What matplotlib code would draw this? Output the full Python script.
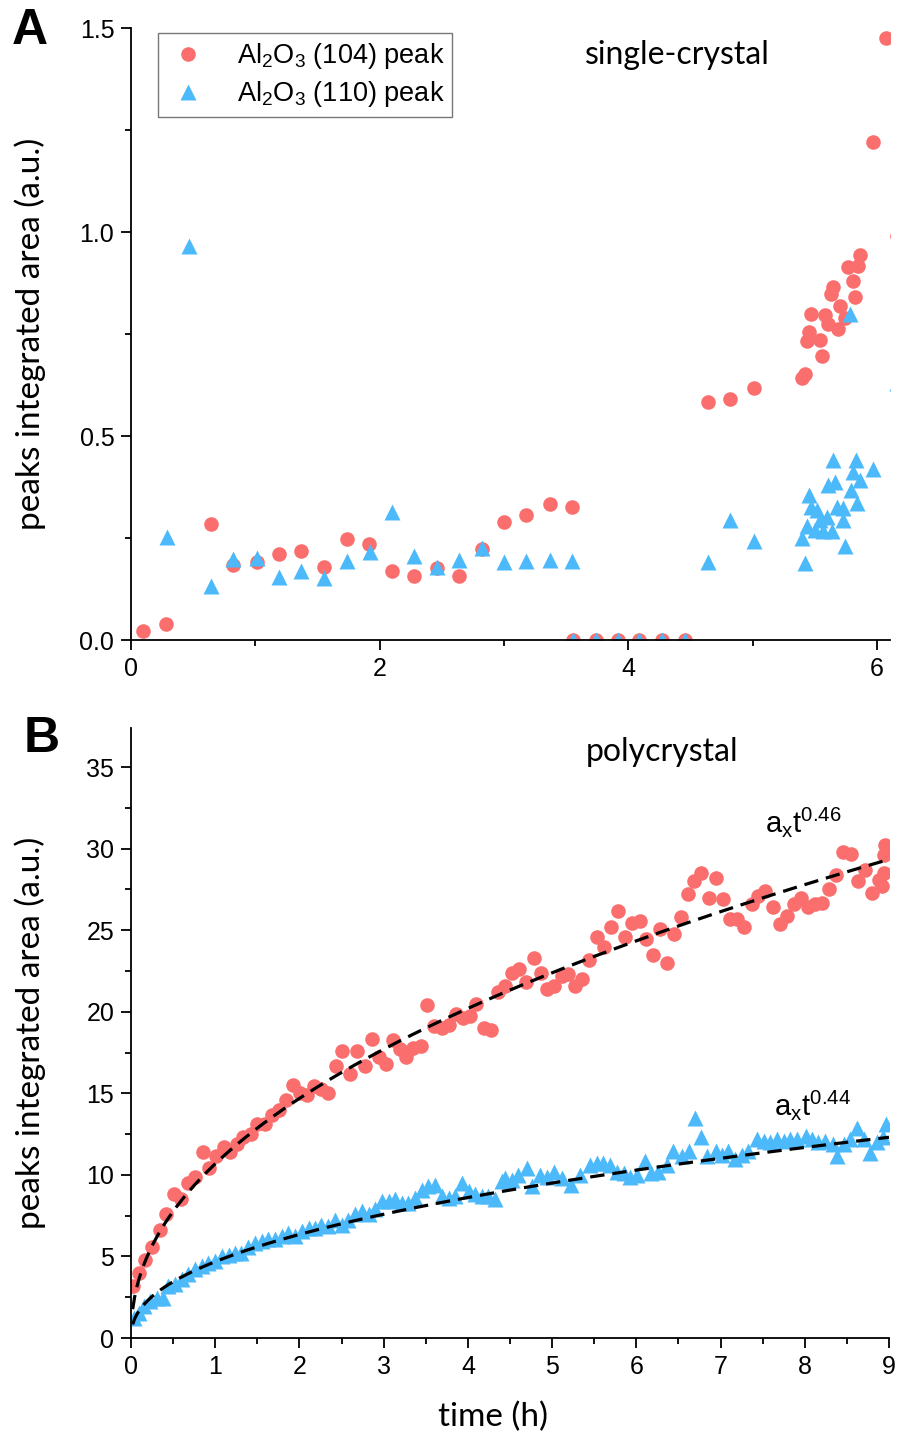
import matplotlib
matplotlib.use("Agg")
import matplotlib.pyplot as plt
import numpy as np
from matplotlib.ticker import MultipleLocator

# ---------------- Panel A data (single crystal) ----------------
a_t104 = [0.10, 0.28, 0.64, 0.82, 1.01, 1.19, 1.37, 1.55, 1.735, 1.915, 2.10, 2.28, 2.46, 2.64, 2.82,
          3.00, 3.18, 3.37, 3.545, 3.555, 3.74, 3.92, 4.09, 4.27, 4.46,
          4.64, 4.82, 5.01, 5.40, 5.42, 5.56, 5.44, 5.54, 5.45, 5.47, 5.58, 5.61, 5.69, 5.74, 5.70,
          5.63, 5.65, 5.82, 5.81, 5.77, 5.85, 5.86, 5.97, 6.07, 6.16]
a_y104 = [0.022, 0.040, 0.285, 0.184, 0.190, 0.210, 0.219, 0.180, 0.247, 0.235, 0.169, 0.158, 0.176, 0.158, 0.223,
          0.288, 0.306, 0.333, 0.325, 0.0, 0.0, 0.0, 0.0, 0.0, 0.0,
          0.583, 0.590, 0.618, 0.641, 0.651, 0.696, 0.734, 0.735, 0.756, 0.798, 0.797, 0.775, 0.762, 0.788, 0.819,
          0.848, 0.866, 0.841, 0.881, 0.915, 0.917, 0.944, 1.22, 1.475, 0.99]

a_t110 = [0.287, 0.469, 0.64, 0.82, 1.01, 1.19, 1.37, 1.55, 1.735, 1.92, 2.10, 2.28, 2.46, 2.64, 2.82,
          3.00, 3.18, 3.37, 3.545, 3.555, 3.74, 3.92, 4.09, 4.27, 4.46,
          4.64, 4.82, 5.01, 5.42, 5.40, 5.44, 5.45, 5.47, 5.52, 5.54, 5.50, 5.57, 5.64, 5.60, 5.61,
          5.66, 5.645, 5.68, 5.725, 5.74, 5.725, 5.79, 5.84, 5.81, 5.865, 5.83, 5.97, 5.78, 6.16]
a_y110 = [0.252, 0.965, 0.132, 0.198, 0.200, 0.155, 0.169, 0.151, 0.194, 0.216, 0.314, 0.206, 0.178, 0.196, 0.225,
          0.190, 0.194, 0.196, 0.194, 0.0, 0.0, 0.0, 0.0, 0.0, 0.0,
          0.192, 0.294, 0.243, 0.188, 0.249, 0.279, 0.355, 0.325, 0.319, 0.294, 0.270, 0.266, 0.266, 0.302, 0.380,
          0.388, 0.441, 0.325, 0.294, 0.230, 0.323, 0.368, 0.335, 0.412, 0.392, 0.441, 0.420, 0.800, 0.63]

# ---------------- Panel B data (polycrystal) ----------------
b_t104 = [0.02, 0.09, 0.17, 0.25, 0.34, 0.42, 0.51, 0.59, 0.68, 0.76, 0.85, 0.93, 1.01, 1.10, 1.18,
          1.26, 1.33, 1.43, 1.50, 1.59, 1.67, 1.76, 1.84, 1.92, 2.01, 2.09, 2.17, 2.26, 2.34, 2.43,
          2.51, 2.60, 2.68, 2.78, 2.86, 2.94, 3.03, 3.11, 3.19, 3.27, 3.35, 3.44, 3.52, 3.60, 3.69,
          3.77, 3.86, 3.94, 4.03, 4.10, 4.19, 4.28, 4.36, 4.44, 4.52, 4.61, 4.69, 4.78, 4.87, 4.94,
          5.02, 5.12, 5.19, 5.27, 5.36, 5.44, 5.53, 5.62, 5.70, 5.78, 5.87, 5.95, 6.04, 6.12, 6.20,
          6.28, 6.37, 6.45, 6.53, 6.61, 6.69, 6.77, 6.86, 6.95, 7.03, 7.11, 7.20, 7.28, 7.37, 7.45,
          7.53, 7.62, 7.71, 7.79, 7.87, 7.95, 8.04, 8.12, 8.20, 8.29, 8.37, 8.45, 8.55, 8.63, 8.72,
          8.80, 8.88, 8.92, 8.94, 8.95, 8.94]
b_y104 = [3.2, 4.0, 4.8, 5.6, 6.65, 7.6, 8.8, 8.5, 9.5, 9.9, 11.4, 10.4, 11.15, 11.7, 11.4,
          11.9, 12.3, 12.5, 13.1, 13.1, 13.7, 14.0, 14.6, 15.5, 15.0, 14.9, 15.45, 15.25, 15.0, 16.7,
          17.6, 16.2, 17.6, 16.7, 18.35, 17.2, 16.8, 18.3, 17.7, 17.2, 17.75, 17.9, 20.4, 19.1, 19.0,
          19.2, 19.85, 19.6, 19.75, 20.5, 19.0, 18.9, 21.2, 21.6, 22.4, 22.65, 21.8, 23.3, 22.4, 21.4,
          21.6, 22.2, 22.3, 21.6, 22.0, 23.2, 24.6, 24.0, 25.2, 26.2, 24.6, 25.45, 25.55, 24.45, 23.5,
          25.1, 23.0, 24.75, 25.8, 27.2, 28.0, 28.5, 27.0, 28.2, 26.9, 25.7, 25.7, 25.2, 26.6, 27.1,
          27.4, 26.4, 25.4, 25.9, 26.6, 27.0, 26.4, 26.6, 26.7, 27.5, 28.4, 29.8, 29.7, 28.0, 28.7,
          27.3, 28.1, 27.7, 29.6, 30.2, 28.5]

b_t110 = [0.03, 0.09, 0.16, 0.23, 0.31, 0.38, 0.44, 0.52, 0.60, 0.68, 0.76, 0.84, 0.92, 1.00, 1.08,
          1.16, 1.24, 1.31, 1.39, 1.47, 1.55, 1.63, 1.71, 1.79, 1.87, 1.95, 2.03, 2.11, 2.19, 2.26,
          2.34, 2.42, 2.50, 2.58, 2.66, 2.74, 2.82, 2.90, 2.98, 3.06, 3.14, 3.22, 3.29, 3.37, 3.45,
          3.53, 3.61, 3.69, 3.77, 3.85, 3.93, 4.01, 4.09, 4.17, 4.24, 4.32, 4.40, 4.44, 4.52, 4.60,
          4.70, 4.76, 4.86, 4.94, 5.02, 5.12, 5.23, 5.33, 5.45, 5.53, 5.61, 5.69, 5.77, 5.85, 5.93,
          6.01, 6.10, 6.18, 6.26, 6.36, 6.44, 6.54, 6.62, 6.70, 6.77, 6.84, 6.94, 7.02, 7.09, 7.17,
          7.25, 7.33, 7.43, 7.51, 7.59, 7.67, 7.75, 7.83, 7.91, 8.01, 8.08, 8.16, 8.24, 8.34, 8.38,
          8.46, 8.54, 8.62, 8.70, 8.78, 8.86, 8.93, 8.97]
b_y110 = [1.24, 1.55, 1.95, 2.26, 2.47, 2.47, 3.2, 3.3, 3.6, 3.9, 4.2, 4.4, 4.6, 4.7, 5.0,
          5.1, 5.2, 5.2, 5.6, 5.85, 5.95, 6.05, 6.05, 6.25, 6.45, 6.25, 6.55, 6.75, 6.75, 6.95,
          6.85, 7.25, 6.95, 7.25, 7.6, 7.8, 7.6, 7.9, 8.4, 8.4, 8.5, 8.3, 8.3, 8.6, 9.1,
          9.3, 9.4, 8.7, 8.6, 8.7, 9.5, 9.0, 8.8, 8.7, 8.7, 8.5, 9.6, 9.8, 9.7, 10.0,
          10.4, 9.3, 10.0, 9.9, 10.2, 9.8, 9.4, 10.0, 10.6, 10.75, 10.75, 10.6, 10.2, 10.1, 9.9,
          10.0, 10.85, 10.1, 10.2, 10.6, 11.45, 11.15, 11.45, 13.5, 12.3, 11.15, 11.45, 11.25, 11.45, 10.95,
          11.25, 11.45, 12.2, 12.05, 12.0, 12.2, 12.05, 12.2, 12.2, 12.4, 12.2, 12.0, 12.05, 11.9, 11.15,
          11.9, 12.2, 12.9, 12.2, 11.35, 12.0, 12.3, 13.1]

fit_a104, fit_b104 = 10.68, 0.46
fit_a110, fit_b110 = 4.68, 0.44

RED = '#FA6E6E'
BLUE = '#4CB9FB'

plt.rcParams['font.family'] = ['Liberation Sans', 'DejaVu Sans']
plt.rcParams['mathtext.fontset'] = 'custom'
plt.rcParams['mathtext.rm'] = 'Liberation Sans'
plt.rcParams['mathtext.it'] = 'Liberation Sans'
plt.rcParams['mathtext.default'] = 'regular'

fig = plt.figure(figsize=(8.98, 14.39), dpi=100)
W, H = 898, 1439
axA = fig.add_axes([131 / W, 1 - 640 / H, (890 - 131) / W, (640 - 28) / H])
axB = fig.add_axes([131 / W, 1 - 1338 / H, (889 - 131) / W, (1338 - 728) / H])

ms = 10.5
tick_fs = 18
label_font = 'Lato'
label_fs = 24

# Panel A
axA.plot(a_t104, a_y104, 'o', color=RED, ms=ms, mec='none', label=r'Al$_2$O$_3$ (104) peak')
axA.plot(a_t110, a_y110, '^', color=BLUE, ms=ms + 1, mec='none', label=r'Al$_2$O$_3$ (110) peak')
axA.set_xlim(0, 6.105)
axA.set_ylim(0, 1.5)
axA.xaxis.set_major_locator(MultipleLocator(2))
axA.xaxis.set_minor_locator(MultipleLocator(1))
axA.yaxis.set_major_locator(MultipleLocator(0.5))
axA.yaxis.set_minor_locator(MultipleLocator(0.25))
axA.yaxis.set_major_formatter(matplotlib.ticker.FormatStrFormatter('%.1f'))
leg = axA.legend(loc='upper left', bbox_to_anchor=(27 / 759, 1 - 5 / 612), fontsize=19.5,
                 frameon=True, fancybox=False, edgecolor='#555555', handletextpad=1.0,
                 borderpad=0.3, labelspacing=0.3, handlelength=1.6, borderaxespad=0)
leg.get_frame().set_linewidth(1.0)
axA.text(0.72, 0.98, 'single-crystal', transform=axA.transAxes, ha='center', va='top',
         fontsize=23, family=label_font)
axA.set_ylabel('peaks integrated area (a.u.)', fontsize=label_fs, family=label_font)

# Panel B
tt = np.linspace(0.02, 9, 400)
axB.plot(b_t104, b_y104, 'o', color=RED, ms=ms, mec='none')
axB.plot(b_t110, b_y110, '^', color=BLUE, ms=ms + 1, mec='none')
axB.plot(tt, fit_a104 * tt ** fit_b104, '--', color='black', lw=2.3, dashes=(4.5, 2.5))
axB.plot(tt, fit_a110 * tt ** fit_b110, '--', color='black', lw=2.3, dashes=(4.5, 2.5))
axB.set_xlim(0, 9)
axB.set_ylim(0, 37.4)
axB.xaxis.set_major_locator(MultipleLocator(1))
axB.xaxis.set_minor_locator(MultipleLocator(0.5))
axB.yaxis.set_major_locator(MultipleLocator(5))
axB.yaxis.set_minor_locator(MultipleLocator(2.5))
axB.text(0.70, 0.985, 'polycrystal', transform=axB.transAxes, ha='center', va='top',
         fontsize=23, family=label_font)
axB.text((803 - 131) / 758, (1338 - 822) / 610, r'a$_{\mathrm{x}}$t$^{0.46}$',
         transform=axB.transAxes, ha='center', va='center', fontsize=21)
axB.text((812 - 131) / 758, (1338 - 1105) / 610, r'a$_{\mathrm{x}}$t$^{0.44}$',
         transform=axB.transAxes, ha='center', va='center', fontsize=21)
axB.set_ylabel('peaks integrated area (a.u.)', fontsize=label_fs, family=label_font)
axB.set_xlabel('time (h)', fontsize=label_fs, family=label_font)

for ax in (axA, axB):
    for s in ('top', 'right'):
        ax.spines[s].set_visible(False)
    for s in ('left', 'bottom'):
        ax.spines[s].set_linewidth(1.3)
    ax.tick_params(which='major', direction='out', length=7, width=1.3, labelsize=tick_fs, pad=5)
    ax.tick_params(which='minor', direction='out', length=4, width=1.3)
    ax.yaxis.set_label_coords(-0.112, 0.5)

axB.xaxis.set_label_coords(0.478, -0.105)

fig.text(12 / W, 1 - 8 / H, 'A', fontsize=36, fontweight='bold', ha='left', va='top')
fig.text(24 / W, 1 - 716 / H, 'B', fontsize=36, fontweight='bold', ha='left', va='top')

fig.savefig('out.png', dpi=100)
